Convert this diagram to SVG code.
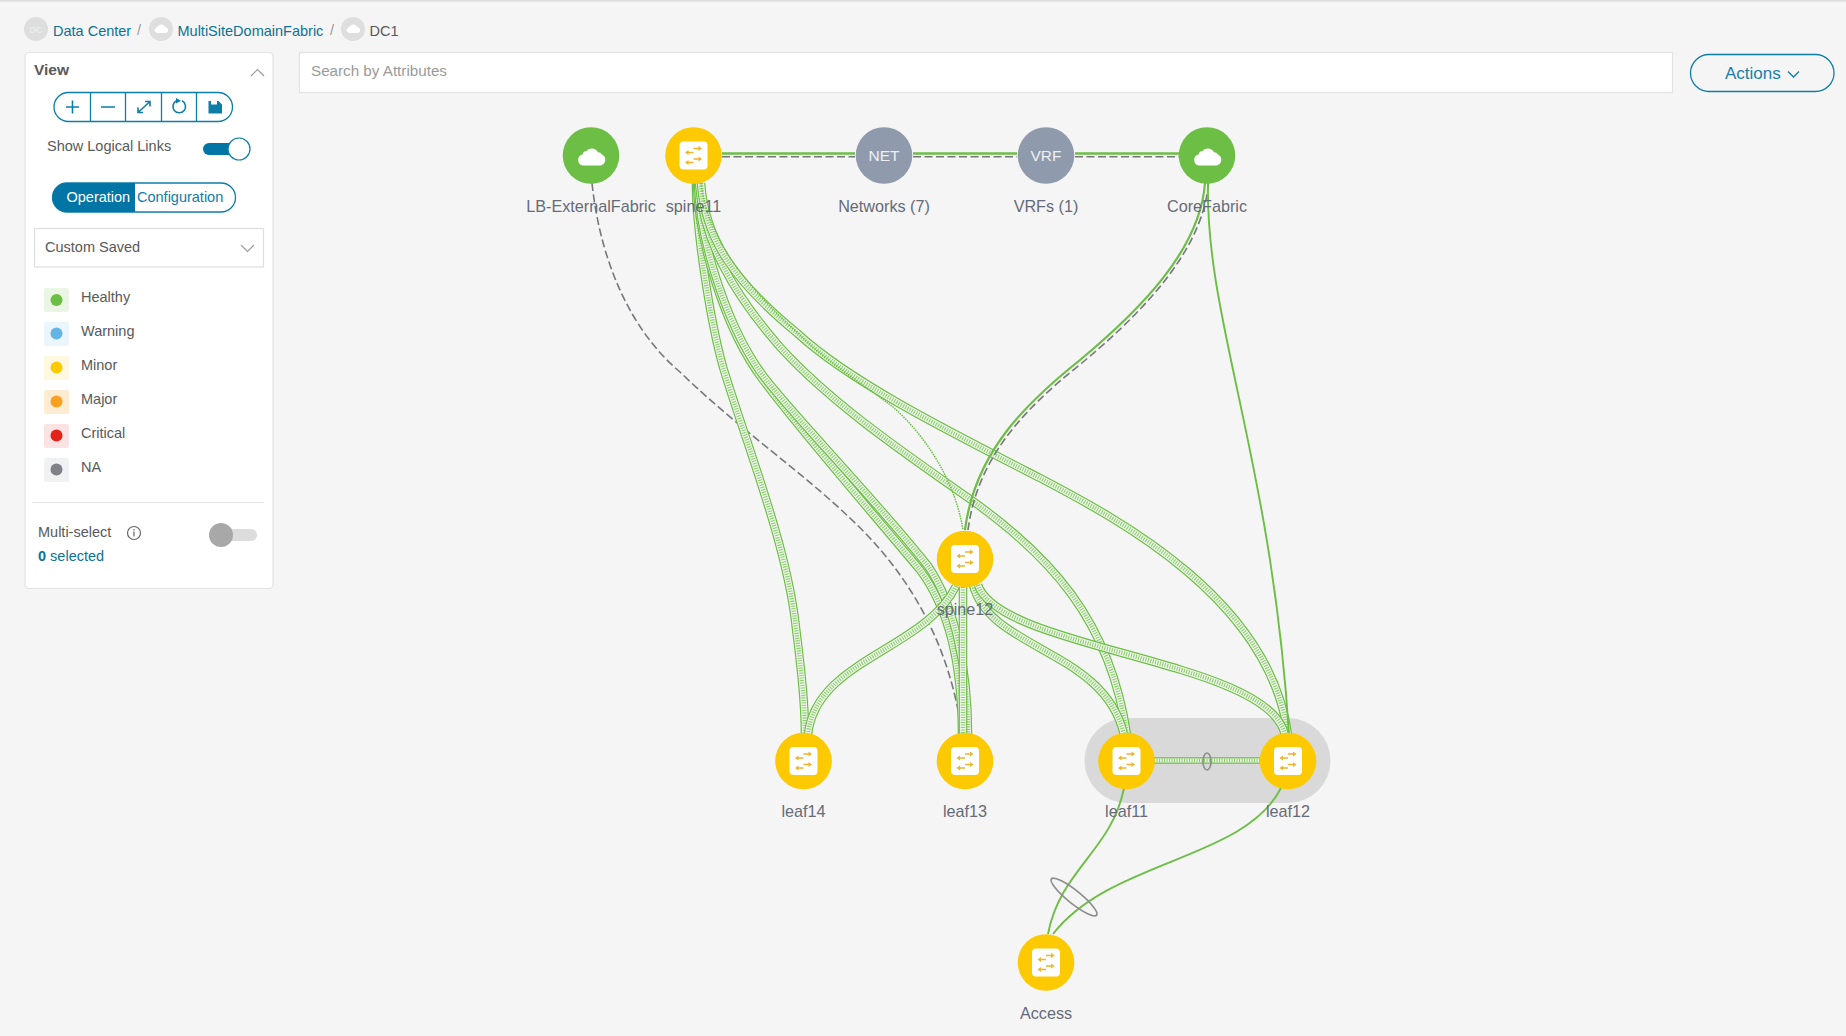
<svg xmlns="http://www.w3.org/2000/svg" width="1846" height="1036" viewBox="0 0 1846 1036">
<style>
text{font-family:"Liberation Sans",Arial,sans-serif}
.t{font-size:14.5px;fill:#58595b}
.lnk{font-size:14.5px;fill:#0b7397}
.lb{font-size:16.2px;fill:#656b78;text-anchor:middle}
.blue{stroke:#0e7ea8;fill:none;stroke-width:1.3}
.chev{fill:none;stroke:#999;stroke-width:1.1}
.icn{fill:none;stroke:#0e7ea8;stroke-width:1.6}
.y{fill:#fdc900}.g{fill:#6cbe45}.n{fill:#8f9bad}
.sq{fill:#fff;stroke:none}
.ar{fill:none;stroke:#f0b429;stroke-width:1.3}
.ah{fill:#f0b429}
.nt{font-size:15.5px;fill:#eef0f3;text-anchor:middle}
.o{fill:none;stroke:#6cbe45;stroke-width:8.6}
.i{fill:none;stroke:#eef6ea;stroke-width:6.2}
.d{fill:none;stroke:#6cbe45;stroke-width:4.4;stroke-dasharray:1.1 1.4;opacity:.72}
.s{fill:none;stroke:#6cbe45;stroke-width:1.9}
.sd{fill:none;stroke:#6cbe45;stroke-width:1.5;stroke-dasharray:1.5 1}
.da{fill:none;stroke:#77787c;stroke-width:1.6;stroke-dasharray:8 3.5}
.lag{fill:none;stroke:#8e8e8e;stroke-width:1.7}
</style>
<defs>
<g id="sw"><rect class="sq" x="-14" y="-14" width="28" height="28" rx="4"/>
<path class="ar" d="M0-3H-6M0-7H6M0 7H-6M0 3.500H6"/>
<path class="ah" d="M-8.500-3-5-5.500V-.5ZM8.500-7 5-9.500V-4.500ZM-8.500 7-5 4.500V9.500ZM8.500 3.500 5 1V6Z"/></g>
<path id="cl" fill="#fff" d="M-8 10H8.500A5.800 5.800 0 0 0 11-1 4.500 4.500 0 0 0 7-3.200 7 7 0 0 0-4.500-4.500 4.500 4.500 0 0 0-8.500-1 5.600 5.600 0 0 0-8 10Z"/>
</defs>
<rect width="1846" height="1036" fill="#f5f5f5"/>
<rect width="1846" height="1.5" fill="#dcdcdc"/>
<g id="breadcrumb">
<circle cx="36" cy="29" r="12" fill="#dedede"/><text x="36" y="33" font-size="9" fill="#efefef" text-anchor="middle">DC</text>
<text class="lnk" x="53" y="36">Data Center</text><text class="t" x="137" y="35" style="fill:#999">/</text>
<circle cx="161" cy="29" r="12" fill="#dedede"/><use href="#cl" transform="translate(161 28) scale(.5)"/>
<text class="lnk" x="177.500" y="36">MultiSiteDomainFabric</text><text class="t" x="330" y="35" style="fill:#999">/</text>
<circle cx="353" cy="29" r="12" fill="#dedede"/><use href="#cl" transform="translate(353 28) scale(.5)"/>
<text class="t" x="369.500" y="36">DC1</text>
</g>
<g id="view-panel">
<rect x="25" y="52.500" width="248" height="536" rx="4" fill="#fff" stroke="#e2e2e2" stroke-width="1.2"/>
<text x="34" y="75" font-size="15.500" font-weight="700" fill="#58595b">View</text>
<path class="chev" d="M251 76l6.500-6.500 6.500 6.500"/>
<rect class="blue" x="54" y="92.500" width="178.500" height="29" rx="14.500"/>
<path class="blue" d="M90.500 92.500v29M125.500 92.500v29M161.500 92.500v29M196.500 92.500v29"/>
<path class="icn" d="M66 107h13M72.500 100.500v13M101 107h14"/>
<path class="icn" d="M138 112.500l12-11M145 101.500h5v5M138 107.500v5h5"/>
<path class="icn" d="M176.500 100.800a6.300 6.300 0 1 0 5.500 0"/><path fill="#0e7ea8" d="M176 98l5 2.800-5 2.600z"/>
<path fill="#0e7ea8" d="M208.500 101h10l3.500 3.500v9h-13.500zM211 101v3.500h6V101z"/>
<text class="t" x="47" y="151">Show Logical Links</text>
<rect x="203" y="143" width="36" height="12" rx="6" fill="#0175a5"/>
<circle cx="239" cy="149" r="11" fill="#fff" stroke="#0e7ea8" stroke-width="1.200"/>
<rect x="52.500" y="183" width="183" height="29" rx="14.500" fill="#fff" stroke="#0e7ea8" stroke-width="1.300"/>
<path d="M135 183H67a14.500 14.500 0 0 0 0 29h68z" fill="#0175a5"/>
<text x="66.500" y="202" font-size="14.500" fill="#fff">Operation</text>
<text x="137" y="202" font-size="14.500" fill="#0e7ea8">Configuration</text>
<rect x="34.500" y="228.500" width="229" height="38.500" fill="#fff" stroke="#dedede" stroke-width="1.200"/>
<text class="t" x="45" y="252">Custom Saved</text>
<path class="chev" d="M241 245l6.500 6.500 6.500-6.500"/>
<g id="legend">
<rect x="44" y="288" width="25" height="24" rx="2" fill="#eaf5e4"/><circle cx="56.500" cy="300" r="6" fill="#6cbe45"/><text class="t" x="81" y="302">Healthy</text>
<rect x="44" y="322" width="25" height="24" rx="2" fill="#ebf6fc"/><circle cx="56.500" cy="333.500" r="6" fill="#64b4e6"/><text class="t" x="81" y="336">Warning</text>
<rect x="44" y="356" width="25" height="24" rx="2" fill="#fff8e0"/><circle cx="56.500" cy="367.500" r="6" fill="#fdc900"/><text class="t" x="81" y="370">Minor</text>
<rect x="44" y="390" width="25" height="24" rx="2" fill="#fdecd2"/><circle cx="56.500" cy="401.500" r="6" fill="#f9a01f"/><text class="t" x="81" y="404">Major</text>
<rect x="44" y="424" width="25" height="24" rx="2" fill="#fbe3e3"/><circle cx="56.500" cy="435.500" r="6" fill="#e2231a"/><text class="t" x="81" y="438">Critical</text>
<rect x="44" y="458" width="25" height="24" rx="2" fill="#f0f1f3"/><circle cx="56.500" cy="469.500" r="6" fill="#7f8088"/><text class="t" x="81" y="472">NA</text>
</g>
<path d="M32 502.500H264" stroke="#e5e5e5" stroke-width="1.200"/>
<text class="t" x="38" y="537">Multi-select</text>
<circle cx="134" cy="533" r="6.500" fill="none" stroke="#666" stroke-width="1.200"/><path d="M134 531.500v5M134 529v1.400" stroke="#666" stroke-width="1.200"/>
<rect x="221" y="529" width="36" height="12" rx="6" fill="#dcdcdc"/><circle cx="221" cy="535" r="12" fill="#a8a8a8"/>
<text x="38" y="561" font-size="14.500" fill="#0b7397"><tspan font-weight="700">0</tspan> selected</text>
</g>
<g id="search"><rect x="299.500" y="52.500" width="1373" height="40" fill="#fff" stroke="#e2e2e2" stroke-width="1.200"/>
<text x="311" y="76" font-size="15.200" fill="#9a9a9a">Search by Attributes</text></g>
<g id="actions"><rect class="blue" x="1690.500" y="54.500" width="143.500" height="37" rx="18.500"/>
<text x="1725" y="79" font-size="17" fill="#1a7fa8">Actions</text><path class="blue" d="M1788 71.500l5.500 5.500 5.500-5.500"/></g>
<rect id="vpc-group" x="1084.500" y="718" width="246" height="85" rx="42.500" fill="#d9d9d9"/>
<g id="connectors">
<path class="s" style="stroke-width:2.600" d="M722 153.500H855M913 153.500H1017M1075 153.500H1179"/>
<path class="da" d="M722 156.800H855M913 156.800H1017M1075 156.800H1179"/>
<path class="da" d="M592 183C600 260 630 330 680 372C740 430 800 470 852 520C905 570 950 640 962 735"/>
<g id="l-s11-l14"><path class="o" d="M696 183C696 230 710 320 723 367C745 440 785 540 795 620C800 660 805 700 805 735"/><path class="i" d="M696 183C696 230 710 320 723 367C745 440 785 540 795 620C800 660 805 700 805 735"/><path class="d" d="M696 183C696 230 710 320 723 367C745 440 785 540 795 620C800 660 805 700 805 735"/></g>
<g id="l-s11-l13a"><path class="o" d="M697 183C698 240 725 330 763 380C800 430 870 510 920 570C950 610 962 670 962 735"/><path class="i" d="M697 183C698 240 725 330 763 380C800 430 870 510 920 570C950 610 962 670 962 735"/><path class="d" d="M697 183C698 240 725 330 763 380C800 430 870 510 920 570C950 610 962 670 962 735"/></g>
<g id="l-s11-l13b"><path class="o" d="M698 183C700 245 730 335 768 382C805 428 880 505 928 566C955 605 968 670 968 735"/><path class="i" d="M698 183C700 245 730 335 768 382C805 428 880 505 928 566C955 605 968 670 968 735"/><path class="d" d="M698 183C700 245 730 335 768 382C805 428 880 505 928 566C955 605 968 670 968 735"/></g>
<g id="l-s11-l11"><path class="o" d="M699 183C703 240 732 292 780 347C830 402 900 450 967 497C1050 555 1110 620 1127 735"/><path class="i" d="M699 183C703 240 732 292 780 347C830 402 900 450 967 497C1050 555 1110 620 1127 735"/><path class="d" d="M699 183C703 240 732 292 780 347C830 402 900 450 967 497C1050 555 1110 620 1127 735"/></g>
<g id="l-s11-l12"><path class="o" d="M701 183C705 240 735 282 797 333C850 382 950 432 1040 478C1120 520 1270 600 1288 735"/><path class="i" d="M701 183C705 240 735 282 797 333C850 382 950 432 1040 478C1120 520 1270 600 1288 735"/><path class="d" d="M701 183C705 240 735 282 797 333C850 382 950 432 1040 478C1120 520 1270 600 1288 735"/></g>
<path class="sd" d="M701 183C708 240 745 285 800 335C830 365 865 385 893 407C925 435 955 480 963 530"/>
<g id="l-s12-l14"><path class="o" d="M956 586C925 650 815 660 808 735"/><path class="i" d="M956 586C925 650 815 660 808 735"/><path class="d" d="M956 586C925 650 815 660 808 735"/></g>
<g id="l-s12-l13"><path class="o" d="M963 587V735"/><path class="i" d="M963 587V735"/><path class="d" d="M963 587V735"/></g>
<g id="l-s12-l11"><path class="o" d="M973 585C990 650 1105 650 1124 735"/><path class="i" d="M973 585C990 650 1105 650 1124 735"/><path class="d" d="M973 585C990 650 1105 650 1124 735"/></g>
<g id="l-s12-l12"><path class="o" d="M978 585C1000 650 1270 660 1285 735"/><path class="i" d="M978 585C1000 650 1270 660 1285 735"/><path class="d" d="M978 585C1000 650 1270 660 1285 735"/></g>
<g id="l-vpc"><path class="o" style="stroke-width:6.500" d="M1154 760.500H1260"/><path class="i" style="stroke-width:4" d="M1154 760.500H1260"/><path class="d" style="stroke-width:3" d="M1154 760.500H1260"/></g>
<ellipse class="lag" cx="1207" cy="761.500" rx="4" ry="8.500"/>
<path class="s" style="stroke-width:2.200" d="M1205 183C1200 250 1140 310 1080 360C1030 400 975 450 965 530"/>
<path class="da" d="M1208.500 183C1203 250 1143 312 1082.500 362.500C1032 403 978 452 968 530"/>
<path class="s" d="M1208 183C1205 320 1272 460 1289 735"/>
<path class="s" d="M1124 788C1112 850 1060 870 1048 934"/>
<path class="s" d="M1281 788C1245 860 1110 860 1053 934"/>
<ellipse class="lag" cx="1074" cy="897" rx="29" ry="6.500" transform="rotate(38.700 1074 897)"/>
</g>
<g id="node-lb"><circle class="g" cx="591" cy="155.500" r="28.300"/><use href="#cl" transform="translate(591 155.500)"/><text class="lb" x="591" y="212">LB-ExternalFabric</text></g>
<g id="node-spine11"><circle class="y" cx="693.500" cy="155.500" r="28.300"/><use href="#sw" transform="translate(693.500 155.500)"/><text class="lb" x="693.500" y="212">spine11</text></g>
<g id="node-networks"><circle class="n" cx="884" cy="155.500" r="28.300"/><text class="nt" x="884" y="160.500">NET</text><text class="lb" x="884" y="212">Networks (7)</text></g>
<g id="node-vrfs"><circle class="n" cx="1046" cy="155.500" r="28.300"/><text class="nt" x="1046" y="160.500">VRF</text><text class="lb" x="1046" y="212">VRFs (1)</text></g>
<g id="node-core"><circle class="g" cx="1207" cy="155.500" r="28.300"/><use href="#cl" transform="translate(1207 155.500)"/><text class="lb" x="1207" y="212">CoreFabric</text></g>
<g id="node-spine12"><circle class="y" cx="965" cy="559" r="28.300"/><use href="#sw" transform="translate(965 559)"/><text class="lb" x="965" y="615">spine12</text></g>
<g id="node-leaf14"><circle class="y" cx="803.500" cy="761" r="28.300"/><use href="#sw" transform="translate(803.500 761)"/><text class="lb" x="803.500" y="817">leaf14</text></g>
<g id="node-leaf13"><circle class="y" cx="965" cy="761" r="28.300"/><use href="#sw" transform="translate(965 761)"/><text class="lb" x="965" y="817">leaf13</text></g>
<g id="node-leaf11"><circle class="y" cx="1126.500" cy="761" r="28.300"/><use href="#sw" transform="translate(1126.500 761)"/><text class="lb" x="1126.500" y="817">leaf11</text></g>
<g id="node-leaf12"><circle class="y" cx="1288" cy="761" r="28.300"/><use href="#sw" transform="translate(1288 761)"/><text class="lb" x="1288" y="817">leaf12</text></g>
<g id="node-access"><circle class="y" cx="1046" cy="962.500" r="28.300"/><use href="#sw" transform="translate(1046 962.500)"/><text class="lb" x="1046" y="1019">Access</text></g>
</svg>
